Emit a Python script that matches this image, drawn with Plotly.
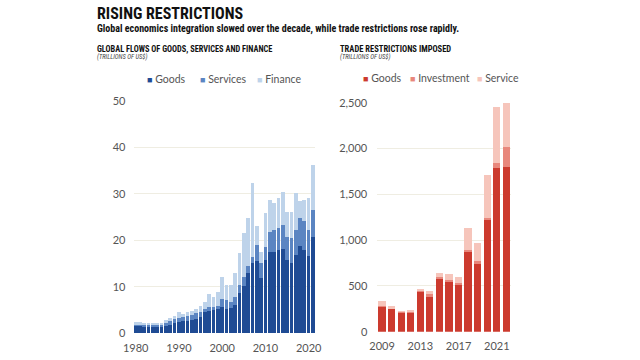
import plotly.graph_objects as go

# ---------------- data ----------------
flow_years = list(range(1980, 2022))
flow_goods = [1.5, 1.5, 1.4, 1.3, 1.3, 1.3, 1.4, 1.6, 1.9, 2.2,
              2.5, 2.6, 2.7, 2.9, 3.1, 3.6, 4.6, 4.9, 5.0, 5.2,
              5.7, 5.3, 5.4, 6.1, 8.6, 10.1, 12.9, 15.1, 15.5, 11.9,
              15.8, 17.6, 17.6, 18.0, 18.1, 15.8, 15.1, 16.9, 18.7, 18.0,
              16.7, 20.7]
flow_services = [0.5, 0.5, 0.5, 0.5, 0.5, 0.5, 0.5, 0.6, 0.7, 0.8,
                 0.9, 0.9, 1.0, 1.1, 1.2, 1.1, 0.7, 0.8, 0.6, 0.6,
                 1.6, 1.8, 1.4, 1.8, 1.8, 2.1, 1.5, 1.4, 3.5, 3.2,
                 2.7, 4.3, 4.7, 4.6, 5.2, 5.0, 5.4, 5.4, 6.1, 6.1,
                 5.6, 5.9]
flow_finance = [0.4, 0.4, 0.3, 0.3, 0.3, 0.4, 0.4, 0.6, 0.6, 0.8,
                1.1, 0.7, 0.8, 0.8, 0.9, 1.2, 1.5, 2.8, 2.3, 3.2,
                4.9, 3.2, 3.6, 5.0, 6.8, 9.4, 10.4, 15.8, 4.0, 2.5,
                7.4, 6.8, 5.7, 6.5, 7.2, 5.4, 5.7, 7.9, 3.6, 4.6,
                6.8, 9.7]
flow_ticks = [1980, 1990, 2000, 2010, 2020]
flow_yticks = [0, 10, 20, 30, 40, 50]

restr_years = list(range(2009, 2023))
restr_goods = [273, 255, 218, 218, 437, 389, 571, 546, 517, 881, 753, 1219, 1783, 1801]
restr_investment = [10, 5, 4, 4, 20, 20, 22, 18, 15, 12, 18, 26, 55, 219]
restr_service = [55, 20, 7, 14, 5, 35, 51, 66, 68, 235, 201, 465, 618, 473]
restr_ticks = [2009, 2013, 2017, 2021]
restr_yticks = [0, 500, 1000, 1500, 2000, 2500]

# ---------------- styles ----------------
BLUE_G, BLUE_S, BLUE_F = "#1f4b94", "#5b85c2", "#bed3ea"
RED_G, RED_I, RED_S = "#cc3a2e", "#e8877c", "#f6c5bb"
GRID = "#efede2"
TICKC = "#555555"
NARROW = "Liberation Sans Narrow, Roboto Condensed, DejaVu Sans Condensed, sans-serif"
BODY = "Lato, Open Sans, sans-serif"

fig = go.Figure()

for name, vals, col in [("Goods", flow_goods, BLUE_G),
                        ("Services", flow_services, BLUE_S),
                        ("Finance", flow_finance, BLUE_F)]:
    fig.add_trace(go.Bar(x=flow_years, y=vals, name=name, marker_color=col,
                         marker_line_width=0, width=0.85,
                         xaxis="x", yaxis="y", showlegend=False))

for name, vals, col in [("Goods", restr_goods, RED_G),
                        ("Investment", restr_investment, RED_I),
                        ("Service", restr_service, RED_S)]:
    fig.add_trace(go.Bar(x=restr_years, y=vals, name=name, marker_color=col,
                         marker_line_width=0, width=0.76,
                         xaxis="x2", yaxis="y2", showlegend=False))

axis_font = dict(family=BODY, size=11, color=TICKC)

fig.update_layout(
    width=640, height=360, autosize=False,
    margin=dict(l=0, r=0, t=0, b=0, pad=0),
    paper_bgcolor="white", plot_bgcolor="white",
    barmode="stack",
    xaxis=dict(domain=[0.2086, 0.4924], range=[1979.5, 2021.5],
               tickvals=flow_ticks, showgrid=False, zeroline=False,
               showline=False, ticks="", tickfont=axis_font,
               ticklabelstandoff=7, anchor="y", automargin=False),
    yaxis=dict(domain=[0.074, 0.7194], range=[0, 50],
               tickvals=flow_yticks, showgrid=True, gridcolor=GRID,
               gridwidth=1, zeroline=False, showline=False, ticks="",
               tickfont=axis_font, ticklabelstandoff=7, anchor="x",
               automargin=False),
    xaxis2=dict(domain=[0.5895, 0.7986], range=[2008.5, 2022.5],
                tickvals=restr_ticks, showgrid=False, zeroline=False,
                showline=False, ticks="", tickfont=axis_font,
                ticklabelstandoff=6, anchor="y2", automargin=False),
    yaxis2=dict(domain=[0.0786, 0.7147], range=[0, 2500],
                tickvals=restr_yticks, tickformat=",", showgrid=True,
                gridcolor=GRID, gridwidth=1, zeroline=False, showline=False,
                ticks="", tickfont=axis_font, ticklabelstandoff=9,
                anchor="x2", automargin=False),
)

def txt(x, y, s, size, family=NARROW, color="#111111", xanchor="left"):
    fig.add_annotation(x=x, y=y, xref="paper", yref="paper", text=s,
                       showarrow=False, xanchor=xanchor, yanchor="middle",
                       font=dict(family=family, size=size, color=color))

# titles
txt(95 / 640, 1 - 14 / 360, "<b>RISING RESTRICTIONS</b>", 16)
txt(95 / 640, 1 - 29 / 360,
    "<b>Global economics integration slowed over the decade, while trade restrictions rose rapidly.</b>", 10)
txt(95 / 640, 1 - 49 / 360, "<b>GLOBAL FLOWS OF GOODS, SERVICES AND FINANCE</b>", 8.3)
txt(95 / 640, 1 - 57 / 360, "<i>(TRILLIONS OF US$)</i>", 6.5, color="#444444")
txt(338 / 640, 1 - 49 / 360, "<b>TRADE RESTRICTIONS IMPOSED</b>", 8.5)
txt(338 / 640, 1 - 57 / 360, "<i>(TRILLIONS OF US$)</i>", 6.5, color="#444444")

# legends
def legend_item(x, y, label, col):
    txt(x / 640, 1 - y / 360,
        f"<span style='color:{col};font-size:9px'>■</span> {label}", 10.5,
        family=BODY, color=TICKC)

legend_item(145, 79, "Goods", BLUE_G)
legend_item(198, 79, "Services", BLUE_S)
legend_item(255, 79, "Finance", BLUE_F)
legend_item(361, 78, "Goods", RED_G)
legend_item(408, 78, "Investment", RED_I)
legend_item(475, 78, "Service", RED_S)

fig.write_html("out.html", config={"displayModeBar": False},
               post_script="document.body.style.margin='0';document.body.style.overflow='hidden';")
